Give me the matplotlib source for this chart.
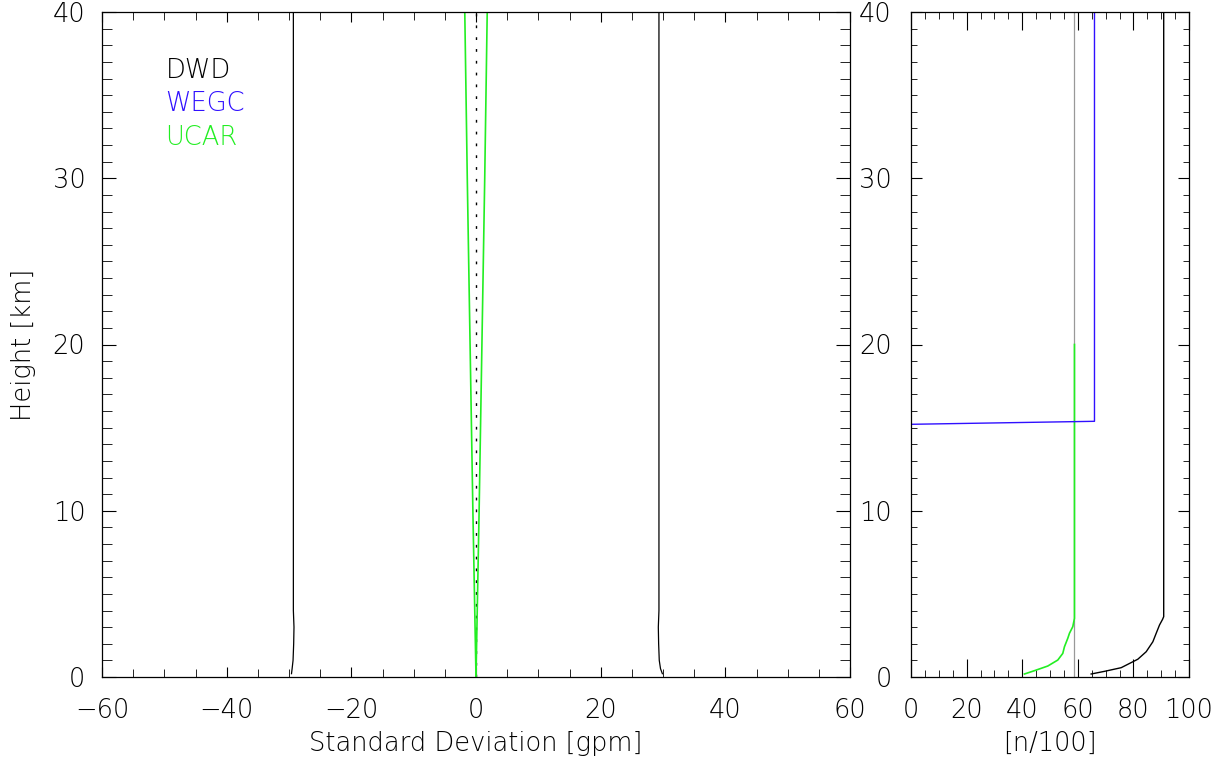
import matplotlib
matplotlib.use("Agg")
import matplotlib.pyplot as plt
from matplotlib.ticker import MultipleLocator

plt.rcParams['font.family'] = ['DejaVu Sans']
plt.rcParams['font.weight'] = 'light'
plt.rcParams['axes.labelweight'] = 'light'
plt.rcParams['axes.unicode_minus'] = True

# ---- data: left panel (standard deviation, gpm) ----
dwd_h = [0.2, 0.5, 1.0, 2.0, 3.0, 4.0, 5.0, 40.0]
dwd_lo = [-29.6, -29.5, -29.35, -29.25, -29.2, -29.3, -29.3, -29.3]
dwd_hi = [29.9, 29.6, 29.4, 29.3, 29.25, 29.35, 29.35, 29.35]

ucar_h = [0.0, 5.0, 10.0, 20.0, 30.0, 40.0]
ucar_lo = [0.0, -0.25, -0.5, -0.95, -1.4, -1.8]
ucar_hi = [0.0, 0.25, 0.5, 0.95, 1.4, 1.8]

zero_h = [0.0, 40.0]
zero_x = [0.0, 0.0]

# ---- data: right panel (number of profiles / 100) ----
ref_n = [58.8, 58.8]
ref_h = [0.0, 40.0]

dwd_n = [64.8, 69.6, 75.6, 81.6, 84.6, 87.0, 88.2, 89.4, 90.5, 90.9, 90.9]
dwd_nh = [0.18, 0.34, 0.56, 1.07, 1.52, 2.12, 2.63, 3.13, 3.47, 3.63, 40.0]

ucar_n = [40.8, 44.4, 49.2, 52.8, 54.6, 55.2, 56.4, 57.0, 58.2, 58.8, 58.8]
ucar_nh = [0.18, 0.38, 0.66, 1.02, 1.42, 1.82, 2.33, 2.63, 3.03, 3.53, 20.0]

wegc_n = [0.0, 66.0, 66.0]
wegc_nh = [15.2, 15.38, 40.0]

labels = ['DWD', 'WEGC', 'UCAR']
GREEN = '#22ee22'
BLUE = '#3010ff'
label_colors = ['black', BLUE, GREEN]

FS = 18.5

fig = plt.figure(figsize=(12.24, 7.62), dpi=100)
ax1 = fig.add_axes([102/1224, (762-677)/762, 748/1224, 665/762])
ax2 = fig.add_axes([911/1224, (762-677)/762, 278/1224, 665/762])

# left panel
ax1.plot(dwd_lo, dwd_h, color='black', lw=0.9)
ax1.plot(dwd_hi, dwd_h, color='black', lw=0.9)
ax1.plot(zero_x, zero_h, color='black', lw=1.0, linestyle=(0, (2.0, 6.5)))
ax1.plot(ucar_lo, ucar_h, color=GREEN, lw=1.2)
ax1.plot(ucar_hi, ucar_h, color=GREEN, lw=1.2)
ax1.set_xlim(-60, 60)
ax1.set_ylim(0, 40)
ax1.xaxis.set_major_locator(MultipleLocator(20))
ax1.xaxis.set_minor_locator(MultipleLocator(5))
ax1.yaxis.set_major_locator(MultipleLocator(10))
ax1.yaxis.set_minor_locator(MultipleLocator(1))
ax1.tick_params(axis='x', which='major', length=7, direction='in', top=True, labelsize=FS, pad=15)
ax1.tick_params(axis='x', which='minor', length=6, direction='in', top=True)
ax1.tick_params(axis='y', which='major', length=10, direction='in', right=True, labelsize=FS, pad=12)
ax1.tick_params(axis='y', which='minor', length=7, direction='in', right=True)
ax1.set_xlabel('Standard Deviation [gpm]', fontsize=FS, labelpad=6)
ax1.set_ylabel('Height [km]', fontsize=FS, labelpad=12)
for i, (lab, c) in enumerate(zip(labels, label_colors)):
    ax1.text(-49.8, 36.5 - 2.03 * i, lab, color=c, fontsize=FS, va='center', ha='left')

# right panel
ax2.plot(ref_n, ref_h, color='#999999', lw=0.9)
ax2.plot(dwd_n, dwd_nh, color='black', lw=1.0)
ax2.plot(ucar_n, ucar_nh, color=GREEN, lw=1.2)
ax2.plot(wegc_n, wegc_nh, color=BLUE, lw=1.0)
ax2.set_xlim(0, 100)
ax2.set_ylim(0, 40)
ax2.xaxis.set_major_locator(MultipleLocator(20))
ax2.xaxis.set_minor_locator(MultipleLocator(5))
ax2.yaxis.set_major_locator(MultipleLocator(10))
ax2.yaxis.set_minor_locator(MultipleLocator(1))
ax2.tick_params(axis='x', which='major', length=13, direction='in', top=True, labelsize=FS, pad=15)
ax2.tick_params(axis='x', which='minor', length=5, direction='in', top=True)
ax2.tick_params(axis='y', which='major', length=8, direction='in', right=True, labelsize=FS, pad=14)
ax2.tick_params(axis='y', which='minor', length=4, direction='in', right=True)
ax2.set_xlabel('[n/100]', fontsize=FS, labelpad=6)

for ax in (ax1, ax2):
    for s in ax.spines.values():
        s.set_linewidth(0.9)

fig.savefig('out.png', dpi=100)
